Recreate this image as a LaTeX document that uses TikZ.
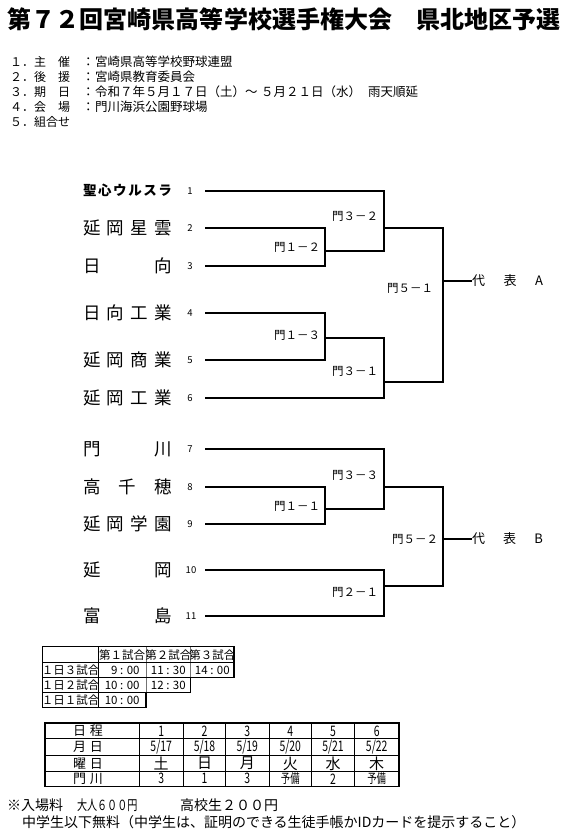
\documentclass[tikz,border=0pt]{standalone}
\usepackage{fontspec}
\setmainfont{Noto Sans CJK JP}
\usepackage{graphicx}
\usepackage{tikz}
\usetikzlibrary{positioning,calc}

\newcommand{\fs}[1]{\fontsize{#1}{#1}\selectfont}
\newcommand{\spread}[2]{\makebox[#1][s]{#2}}
\newcommand{\narrow}[1]{\scalebox{0.72}[1]{#1}}

\begin{document}
\begin{tikzpicture}[x=1pt, y=-1pt,
            every node/.style={inner sep=0pt, outer sep=0pt},
            title/.style={anchor=west, font=\fs{24}\bfseries},
            info/.style={anchor=west, font=\fs{12.5}},
            team/.style={anchor=west, font=\fs{17.5}},
            num/.style={font=\fs{9.5}},
            game/.style={anchor=east, font=\fs{11.5}},
            rep/.style={anchor=west, font=\fs{13}},
            bline/.style={line width=1.6pt},
            tabthick/.style={line width=1.5pt},
            tabthin/.style={line width=0.5pt, black!55},
            cell/.style={font=\fs{11.5}},
            sched/.style={font=\fs{14.5}},
            note/.style={anchor=west, font=\fs{14}}
        ]
            \useasboundingbox (0,0) rectangle (567,832);

            % Title
            \node[title] (title) at (8,19.5) {第７２回宮崎県高等学校選手権大会　県北地区予選};

            % Outline
            \node[info, font=\fs{12}] (i1) at (10,62) {１．主　催};
            \node[info] (c1) at (82,62) {：};
            \node[info] (v1) at (95,62) {宮崎県高等学校野球連盟};
            \node[info, font=\fs{12}] (i2) at (10,77) {２．後　援};
            \node[info] (c2) at (82,77) {：};
            \node[info] (v2) at (95,77) {宮崎県教育委員会};
            \node[info, font=\fs{12}] (i3) at (10,92) {３．期　日};
            \node[info] (c3) at (82,92) {：};
            \node[info] (v3) at (95,92) {令和７年５月１７日（土）～};
            \node[info] (v3b) at (261,92) {５月２１日（水）};
            \node[info] (v3c) at (368,92) {雨天順延};
            \node[info, font=\fs{12}] (i4) at (10,107) {４．会　場};
            \node[info] (c4) at (82,107) {：};
            \node[info] (v4) at (95,107) {門川海浜公園野球場};
            \node[info, font=\fs{12}] (i5) at (10,122) {５．組合せ};

            % Teams
            \node[team, font=\fs{13.5}\bfseries] (t1) at (83,190.7) {\spread{89pt}{聖\hfill 心\hfill ウ\hfill ル\hfill ス\hfill ラ}};
            \node[team] (t2) at (83,228) {\spread{89pt}{延\hfill 岡\hfill 星\hfill 雲}};
            \node[team] (t3) at (83,266) {\spread{89pt}{日\hfill 向}};
            \node[team] (t4) at (83,313) {\spread{89pt}{日\hfill 向\hfill 工\hfill 業}};
            \node[team] (t5) at (83,360) {\spread{89pt}{延\hfill 岡\hfill 商\hfill 業}};
            \node[team] (t6) at (83,398) {\spread{89pt}{延\hfill 岡\hfill 工\hfill 業}};
            \node[team] (t7) at (83,449) {\spread{89pt}{門\hfill 川}};
            \node[team] (t8) at (83,487) {\spread{89pt}{高\hfill 千\hfill 穂}};
            \node[team] (t9) at (83,524) {\spread{89pt}{延\hfill 岡\hfill 学\hfill 園}};
            \node[team] (t10) at (83,570) {\spread{89pt}{延\hfill 岡}};
            \node[team] (t11) at (83,616) {\spread{89pt}{富\hfill 島}};

            % Draw numbers
            \node[num] (n1) at (190,190.7) {1};
            \node[num] (n2) at (190,228) {2};
            \node[num] (n3) at (190,266) {3};
            \node[num] (n4) at (190,313) {4};
            \node[num] (n5) at (190,360) {5};
            \node[num] (n6) at (190,398) {6};
            \node[num] (n7) at (190,449) {7};
            \node[num] (n8) at (190,487) {8};
            \node[num] (n9) at (190,524) {9};
            \node[num] (n10) at (191,570) {10};
            \node[num] (n11) at (191,616) {11};

            % Line starts
            \coordinate (p1) at (205,190.7);
            \coordinate (p2) at (205,228);
            \coordinate (p3) at (205,266);
            \coordinate (p4) at (205,313);
            \coordinate (p5) at (205,360);
            \coordinate (p6) at (205,398);
            \coordinate (p7) at (205,449);
            \coordinate (p8) at (205,487);
            \coordinate (p9) at (205,524);
            \coordinate (p10) at (205,570);
            \coordinate (p11) at (205,616);

            % Junctions
            \coordinate (j12) at (325,250.7);
            \coordinate (j32) at (384,227.7);
            \coordinate (j13) at (325,337.7);
            \coordinate (j31) at (384,382);
            \coordinate (jA) at (442.7,281);
            \coordinate (j11) at (325,509);
            \coordinate (j33) at (384,486.7);
            \coordinate (j21) at (384,585.7);
            \coordinate (jB) at (442.7,539);

            % Game labels
            \node[game] (g12) at (320,247.7) {門１－２};
            \node[game] (g32) at (378,216.7) {門３－２};
            \node[game] (g13) at (320,335.7) {門１－３};
            \node[game] (g31) at (378,371) {門３－１};
            \node[game] (g51) at (433,288) {門５－１};
            \node[game] (g11) at (320,506) {門１－１};
            \node[game] (g33) at (378,475.7) {門３－３};
            \node[game] (g21) at (378,592) {門２－１};
            \node[game] (g52) at (438,539) {門５－２};

            % Winners
            \node[rep] (repA) at (472,281) {\spread{71pt}{代\hfill 表\hfill A}};
            \node[rep] (repB) at (472,539) {\spread{71pt}{代\hfill 表\hfill B}};

            % Bracket A
            \draw[bline] (p2) -| (j12) |- (p3);
            \draw[bline] (p1) -| (j32) |- (j12);
            \draw[bline] (p4) -| (j13) |- (p5);
            \draw[bline] (j13) -| (j31) |- (p6);
            \draw[bline] (j32) -| (jA) |- (j31);
            \draw[bline] (jA) -- (repA.west);

            % Bracket B
            \draw[bline] (p8) -| (j11) |- (p9);
            \draw[bline] (p7) -| (j33) |- (j11);
            \draw[bline] (p10) -| (j21) |- (p11);
            \draw[bline] (j33) -| (jB) |- (j21);
            \draw[bline] (jB) -- (repB.west);

            % Start time table
            \draw[tabthin] (146,646.7) -- (146,692.7);
            \draw[tabthin] (190.7,646.7) -- (190.7,677.3);
            \draw[tabthick] (42.7,646.7) -- (234,646.7) -- (234,677.3) -- (190.7,677.3)
                -- (190.7,692.7) -- (146,692.7) -- (146,707.7) -- (42.7,707.7) -- cycle;
            \draw[tabthick] (42.7,662.7) -- (234,662.7);
            \draw[tabthick] (42.7,677.3) -- (190.7,677.3);
            \draw[tabthick] (42.7,692.7) -- (146,692.7);
            \draw[tabthick] (98.3,646.7) -- (98.3,707.7);

            \node[cell] (th1) at (122.2,654.7) {第１試合};
            \node[cell] (th2) at (168.3,654.7) {第２試合};
            \node[cell] (th3) at (212.3,654.7) {第３試合};
            \node[cell] (tr1) at (70.5,670) {１日３試合};
            \node[cell] (tr2) at (70.5,685) {１日２試合};
            \node[cell] (tr3) at (70.5,700.2) {１日１試合};
            \node[cell] (tv11) at (122.2,670) {\phantom{1}9 : 00};
            \node[cell] (tv12) at (168.3,670) {11 : 30};
            \node[cell] (tv13) at (212.3,670) {14 : 00};
            \node[cell] (tv21) at (122.2,685) {10 : 00};
            \node[cell] (tv22) at (168.3,685) {12 : 30};
            \node[cell] (tv31) at (122.2,700.2) {10 : 00};

            % Schedule table
            \draw[line width=0.8pt] (45,738.7) -- (399,738.7);
            \draw[line width=0.8pt] (45,755.7) -- (399,755.7);
            \draw[line width=0.8pt] (45,771.3) -- (399,771.3);
            \draw[line width=0.8pt] (139,723) -- (139,786.3);
            \draw[line width=0.8pt] (183.3,723) -- (183.3,786.3);
            \draw[line width=0.8pt] (225.7,723) -- (225.7,786.3);
            \draw[line width=0.8pt] (269,723) -- (269,786.3);
            \draw[line width=0.8pt] (311.7,723) -- (311.7,786.3);
            \draw[line width=0.8pt] (354.3,723) -- (354.3,786.3);
            \draw[tabthick] (45,723) rectangle (399,786.3);

            \node[sched, font=\fs{13}] (sl1) at (88,731) {\spread{30pt}{日\hfill 程}};
            \node[sched, font=\fs{13}] (sl2) at (88,747) {\spread{30pt}{月\hfill 日}};
            \node[sched, font=\fs{13}] (sl3) at (88,763.5) {\spread{30pt}{曜\hfill 日}};
            \node[sched, font=\fs{13}] (sl4) at (88,778.8) {\spread{30pt}{門\hfill 川}};

            \node[sched] (s11) at (161.2,731) {\narrow{1}};
            \node[sched] (s12) at (204.5,731) {\narrow{2}};
            \node[sched] (s13) at (247.3,731) {\narrow{3}};
            \node[sched] (s14) at (290.3,731) {\narrow{4}};
            \node[sched] (s15) at (333,731) {\narrow{5}};
            \node[sched] (s16) at (376.7,731) {\narrow{6}};
            \node[sched] (s21) at (161.2,747) {\narrow{5/17}};
            \node[sched] (s22) at (204.5,747) {\narrow{5/18}};
            \node[sched] (s23) at (247.3,747) {\narrow{5/19}};
            \node[sched] (s24) at (290.3,747) {\narrow{5/20}};
            \node[sched] (s25) at (333,747) {\narrow{5/21}};
            \node[sched] (s26) at (376.7,747) {\narrow{5/22}};
            \node[sched, font=\fs{15}] (s31) at (161.2,763.5) {土};
            \node[sched, font=\fs{15}] (s32) at (204.5,763.5) {日};
            \node[sched, font=\fs{15}] (s33) at (247.3,763.5) {月};
            \node[sched, font=\fs{15}] (s34) at (290.3,763.5) {火};
            \node[sched, font=\fs{15}] (s35) at (333,763.5) {水};
            \node[sched, font=\fs{15}] (s36) at (376.7,763.5) {木};
            \node[sched] (s41) at (161.2,778.8) {\narrow{3}};
            \node[sched] (s42) at (204.5,778.8) {\narrow{1}};
            \node[sched] (s43) at (247.3,778.8) {\narrow{3}};
            \node[sched, font=\fs{13}] (s44) at (290.3,778.8) {\narrow{予備}};
            \node[sched] (s45) at (333,778.8) {\narrow{2}};
            \node[sched, font=\fs{13}] (s46) at (376.7,778.8) {\narrow{予備}};

            % Notes
            \node[note] (f1) at (7,805) {※入場料};
            \node[note] (f2) at (77,805) {\narrow{大人６００円}};
            \node[note] (f3) at (180,805) {高校生２００円};
            \node[note] (f4) at (22,822) {中学生以下無料（中学生は、証明のできる生徒手帳かIDカードを提示すること）};

        \end{tikzpicture}
\end{document}
